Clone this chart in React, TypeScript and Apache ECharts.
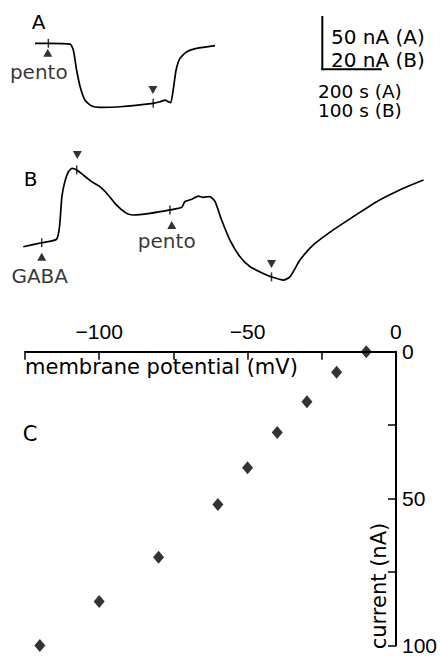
import React, { useEffect, useRef } from "react";
import * as echarts from "echarts";

// Panel A trace: time (s) vs current (nA)
const traceATime = [0, 45, 118, 129, 140, 152, 168, 191, 219, 286, 398, 421, 438, 449, 457, 466, 475, 488, 511, 544, 606];
const traceACurrent = [0, 0, -0.7, -6.3, -25, -40.7, -53.2, -58.8, -60, -59.5, -56.3, -54.8, -53.2, -54.8, -55.7, -42.2, -25, -14.1, -7.9, -4.7, -2.1];

// Panel B trace: time (s) vs current (nA)
const traceBTime = [0, 31, 56, 61, 65, 70, 76, 82, 90, 101, 115, 129, 143, 157, 174, 185, 213, 247, 267, 272, 284, 295, 303, 314, 323, 334, 348, 365, 382, 404, 418, 438, 449, 466, 488, 522, 556, 595, 634, 674];
const traceBCurrent = [0, 1.5, 2.8, 7.5, 18.8, 24.4, 28.1, 29.4, 28.8, 26.9, 24.4, 22.5, 19.4, 15.6, 12.5, 11.9, 12.5, 13.8, 14.8, 16.9, 17.8, 19.0, 18.5, 18.8, 16.9, 10.0, 2.5, -3.8, -7.5, -10.0, -11.3, -12.5, -11.3, -5.0, 0.6, 6.3, 11.3, 16.9, 21.3, 25.0];

// Event marks on traces: [time, current]
const tickMarksA = [[45, 0], [398, -56.3]];
const upArrowsA = [{ t: 43, i: -8.8, label: "pento" }];
const downArrowsA = [{ t: 397, i: -43.8 }];

const tickMarksB = [[31, 1.5], [90, 28.8], [247, 13.8], [418, -11.3]];
const upArrowsB = [
  { t: 31, i: -3.75, label: "GABA" },
  { t: 250, i: 8.1, label: "pento" },
];
const downArrowsB = [{ t: 91, i: 34.4 }, { t: 418, i: -6.5 }];

// Panel C: current-voltage relation
const potential = [-10, -20, -30, -40, -50, -60, -80, -100, -120];
const current = [0, 7, 17, 27.5, 39.5, 52, 70, 85, 100];

const WORD_FONT = '"DejaVu Sans", "Liberation Sans", sans-serif';
const NUM_FONT = '"Liberation Sans", Arial, sans-serif';

function txt(text: string, x: number, y: number, size: number, align = "left", rotation = 0, family = WORD_FONT) {
  return {
    type: "text",
    x,
    y,
    rotation,
    style: {
      text,
      fontSize: size,
      fontFamily: family,
      fill: "#000",
      align,
      verticalAlign: "middle",
      textAlign: align,
      textVerticalAlign: "middle",
    },
  };
}

export default function App() {
  const ref = useRef<HTMLDivElement>(null);
  useEffect(() => {
    if (!ref.current) return;
    const chart = echarts.init(ref.current, undefined, { renderer: "svg" });
    const black = "#000";
    const hiddenAxis = { show: false, type: "value" };
    const upLabel = (offX: number, dist: number) => ({
      show: true,
      position: "bottom",
      distance: dist,
      offset: [offX, 0],
      color: black,
      fontSize: 20,
      fontFamily: WORD_FONT,
      formatter: (p: any) => p.data.name,
    });
    const arrowSize = [9, 8];
    chart.setOption({
      animation: false,
      backgroundColor: "#fff",
      grid: [
        { left: 35, top: 22.0, width: 181.2, height: 95.95 },
        { left: 23.3, top: 150.7, width: 400.8, height: 138.7 },
        { left: 25, top: 351.7, width: 374.3, height: 297.6 },
      ],
      xAxis: [
        { ...hiddenAxis, gridIndex: 0, min: 0, max: 610 },
        { ...hiddenAxis, gridIndex: 1, min: 0, max: 675 },
        {
          type: "value",
          gridIndex: 2,
          position: "top",
          min: -125,
          max: 0,
          interval: 25,
          axisLine: { show: true, onZero: false, lineStyle: { color: black, width: 2 } },
          axisTick: { show: true, inside: true, length: 8, lineStyle: { color: black, width: 1.5 } },
          axisLabel: {
            show: true,
            showMaxLabel: true,
            margin: 10,
            color: black,
            fontSize: 21,
            fontFamily: NUM_FONT,
            formatter: (v: number) => (v % 50 === 0 ? (v < 0 ? "\u2212" + -v : String(v)) : ""),
          },
          splitLine: { show: false },
        },
      ],
      yAxis: [
        { ...hiddenAxis, gridIndex: 0, min: -70, max: 20 },
        { ...hiddenAxis, gridIndex: 1, min: -16, max: 36 },
        {
          type: "value",
          gridIndex: 2,
          position: "right",
          inverse: true,
          min: 0,
          max: 100,
          interval: 25,
          axisLine: { show: true, onZero: false, lineStyle: { color: black, width: 2 } },
          axisTick: { show: true, inside: true, length: 8, lineStyle: { color: black, width: 1.5 } },
          axisLabel: {
            show: true,
            showMinLabel: true,
            showMaxLabel: true,
            margin: 6,
            color: black,
            fontSize: 21,
            fontFamily: NUM_FONT,
            formatter: (v: number) => (v % 50 === 0 ? String(v) : ""),
          },
          splitLine: { show: false },
        },
      ],
      series: [
        {
          type: "line",
          xAxisIndex: 0,
          yAxisIndex: 0,
          data: traceATime.map((t, k) => [t, traceACurrent[k]]),
          showSymbol: false,
          smooth: 0.2,
          lineStyle: { color: black, width: 1.7 },
        },
        {
          type: "line",
          xAxisIndex: 1,
          yAxisIndex: 1,
          data: traceBTime.map((t, k) => [t, traceBCurrent[k]]),
          showSymbol: false,
          smooth: 0.2,
          lineStyle: { color: black, width: 1.7 },
        },
        {
          type: "scatter",
          xAxisIndex: 0,
          yAxisIndex: 0,
          symbol: "rect",
          symbolSize: [1.5, 9],
          itemStyle: { color: black },
          data: tickMarksA,
        },
        {
          type: "scatter",
          xAxisIndex: 1,
          yAxisIndex: 1,
          symbol: "rect",
          symbolSize: [1.5, 9],
          itemStyle: { color: black },
          data: tickMarksB,
        },
        {
          type: "scatter",
          xAxisIndex: 0,
          yAxisIndex: 0,
          symbol: "triangle",
          symbolSize: arrowSize,
          itemStyle: { color: black },
          label: upLabel(-9, 5),
          data: upArrowsA.map((e) => ({ name: e.label, value: [e.t, e.i] })),
        },
        {
          type: "scatter",
          xAxisIndex: 0,
          yAxisIndex: 0,
          symbol: "triangle",
          symbolRotate: 180,
          symbolSize: arrowSize,
          itemStyle: { color: black },
          data: downArrowsA.map((e) => [e.t, e.i]),
        },
        {
          type: "scatter",
          xAxisIndex: 1,
          yAxisIndex: 1,
          symbol: "triangle",
          symbolSize: arrowSize,
          itemStyle: { color: black },
          data: [
            { name: upArrowsB[0].label, value: [upArrowsB[0].t, upArrowsB[0].i], label: upLabel(-2, 5) },
            { name: upArrowsB[1].label, value: [upArrowsB[1].t, upArrowsB[1].i], label: upLabel(-5, 2) },
          ],
        },
        {
          type: "scatter",
          xAxisIndex: 1,
          yAxisIndex: 1,
          symbol: "triangle",
          symbolRotate: 180,
          symbolSize: arrowSize,
          itemStyle: { color: black },
          data: downArrowsB.map((e) => [e.t, e.i]),
        },
        {
          type: "scatter",
          xAxisIndex: 2,
          yAxisIndex: 2,
          symbol: "diamond",
          symbolSize: [11, 13],
          itemStyle: { color: black },
          data: potential.map((v, k) => [v, current[k]]),
        },
      ],
      graphic: [
        txt("A", 38.5, 21.5, 20, "center"),
        txt("B", 30.5, 178.5, 20, "center"),
        txt("C", 30, 434, 21, "center"),
        { type: "line", shape: { x1: 322.3, y1: 16, x2: 322.3, y2: 70 }, style: { stroke: black, lineWidth: 2 } },
        { type: "line", shape: { x1: 321.3, y1: 69.3, x2: 381.7, y2: 69.3 }, style: { stroke: black, lineWidth: 2 } },
        txt("50 nA (A)", 331, 36.7, 20),
        txt("20 nA (B)", 331, 60, 20),
        txt("200 s (A)", 318, 91.5, 18.5),
        txt("100 s (B)", 318, 110.5, 18.5),
        txt("membrane potential (mV)", 25, 367, 21),
        txt("current (nA)", 379, 586, 21, "center", Math.PI / 2),
      ],
    });
    return () => chart.dispose();
  }, []);
  return (
    <div
      ref={ref}
      style={{ position: "fixed", left: 0, top: 0, width: 440, height: 656, background: "#fff" }}
    />
  );
}
